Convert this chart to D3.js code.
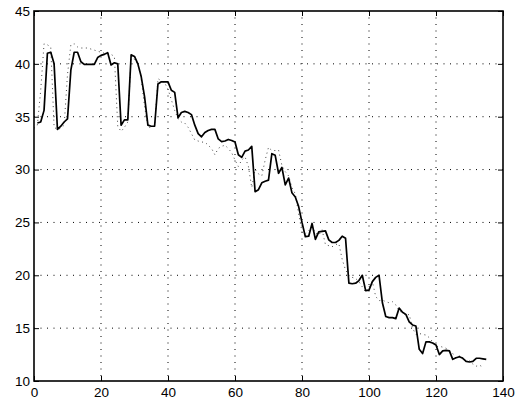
<!DOCTYPE html>
<html>
<head>
<meta charset="utf-8">
<script src="https://cdn.jsdelivr.net/npm/d3@7"></script>
<style>
  body { margin: 0; background: #fff; }
  #vis text { font-family: "Liberation Sans", Arial, sans-serif; font-size: 13.5px; fill: #000; }
</style>
</head>
<body>
<div id="vis"></div>
<script>
// solid series (model)
var solidX = [1,2,3,4,5,6,7,8,9,10,11,12,13,14,15,16,17,18,19,20,21,22,23,24,25,26,27,28,29,30,
  31,32,33,34,35,36,37,38,39,40,41,42,43,44,45,46,47,48,49,50,51,52,53,54,55,56,57,58,59,60,
  61,62,63,64,65,66,67,68,69,70,71,72,73,74,75,76,77,78,79,80,81,82,83,84,85,86,87,88,89,90,
  91,92,93,94,95,96,97,98,99,100,101,102,103,104,105,106,107,108,109,110,111,112,113,114,115,
  116,117,118,119,120,121,122,123,124,125,126,127,128,129,130,131,132,133,134,135];
var solidY = [34.4,34.5,35.6,41.0,41.1,40.0,33.8,34.1,34.5,34.8,39.4,41.1,41.1,40.2,39.95,39.95,39.95,39.95,40.6,40.8,
  40.9,41.05,39.9,40.1,40.0,34.2,34.7,34.7,40.85,40.7,40.0,38.8,36.9,34.2,34.1,34.1,38.1,38.3,38.3,38.3,
  37.5,37.3,34.9,35.4,35.5,35.4,35.2,34.2,33.4,33.1,33.5,33.7,33.8,33.8,32.9,32.65,32.7,32.85,32.75,32.6,
  31.4,31.15,31.75,31.85,32.2,27.9,28.1,28.75,28.9,29.0,31.5,31.35,29.65,30.2,28.55,29.2,27.8,27.4,26.5,25.0,
  23.65,23.7,24.9,23.4,24.1,24.15,24.2,23.35,23.1,23.1,23.3,23.7,23.5,19.25,19.2,19.25,19.5,20.0,18.55,18.6,
  19.4,19.8,20.0,17.4,16.1,16.0,16.0,15.9,16.9,16.5,16.3,15.6,15.3,15.2,13.0,12.6,13.7,13.7,13.6,13.4,
  12.5,12.85,12.9,12.85,12.05,12.2,12.3,12.15,11.85,11.8,11.85,12.15,12.15,12.1,12.05];

// dotted series (measured)
var dottedX = [0,1,2,3,4,5,6,7,8,9,10,11,12,13,14,15,16,17,18,19,20,21,22,23,24,25,26,27,28,29,
  30,31,32,33,34,35,36,37,38,39,40,41,42,43,44,45,46,47,48,49,50,51,52,53,54,55,56,57,58,59,
  60,61,62,63,64,65,66,67,68,69,70,71,72,73,74,75,76,77,78,79,80,81,82,83,84,85,86,87,88,89,
  90,91,92,93,94,95,96,97,98,99,100,101,102,103,104,105,106,107,108,109,110,111,112,113,114,
  115,116,117,118,119,120,121,122,123,124,125,126,127,128,129,130,131,132,133,134];
var dottedY = [33.9,34.2,37.5,41.9,41.8,41.6,34.0,33.8,33.9,34.2,39.0,41.8,41.9,41.6,41.5,41.5,41.5,41.4,41.3,41.2,
  41.1,41.0,41.0,40.9,40.7,34.1,33.6,34.0,34.5,40.8,40.4,40.0,38.6,36.0,34.0,34.0,34.1,38.6,38.4,38.2,
  37.6,36.6,35.6,34.8,34.5,34.4,34.0,33.4,32.8,32.7,32.6,32.6,32.3,32.0,31.4,32.0,32.2,32.3,32.0,31.6,
  30.9,30.3,30.9,31.2,30.3,28.3,30.0,29.6,29.4,30.9,32.1,31.8,31.8,31.85,30.4,29.8,29.4,28.3,27.7,25.8,
  24.1,23.9,24.2,24.6,24.0,23.8,24.3,22.9,22.8,22.7,22.9,23.0,21.5,20.5,20.0,19.8,19.7,19.4,18.9,18.4,
  18.9,19.4,18.0,17.6,17.66,17.5,17.4,17.5,17.2,16.6,16.5,16.2,16.3,15.0,14.4,14.5,14.4,14.35,14.1,13.7,
  13.25,13.3,13.2,13.1,12.9,12.6,12.15,12.4,12.2,11.8,11.9,11.6,11.4,11.5,11.3];

var xTicks = [0, 20, 40, 60, 80, 100, 120, 140];
var yTicks = [10, 15, 20, 25, 30, 35, 40, 45];

let svgWidth = 518, svgHeight = 400;
let margin = { top: 11, right: 15, bottom: 19, left: 34 };
let width = svgWidth - margin.left - margin.right;
let height = svgHeight - margin.top - margin.bottom;

let svg = d3.select("#vis").append("svg")
  .attr("width", svgWidth)
  .attr("height", svgHeight);

let g = svg.append("g")
  .attr("transform", "translate(" + margin.left + "," + margin.top + ")");

let x = d3.scaleLinear().domain([0, 140]).range([0, width]);
let y = d3.scaleLinear().domain([10, 45]).range([height, 0]);

// grid (dotted, interior ticks only)
g.selectAll(".vgrid")
  .data(xTicks.slice(1, -1))
  .enter().append("line")
  .attr("x1", d => x(d)).attr("x2", d => x(d))
  .attr("y1", 0).attr("y2", height)
  .attr("stroke", "#000").attr("stroke-width", 1)
  .attr("stroke-dasharray", "1,5.5");

g.selectAll(".hgrid")
  .data(yTicks.slice(1, -1))
  .enter().append("line")
  .attr("x1", 0).attr("x2", width)
  .attr("y1", d => y(d)).attr("y2", d => y(d))
  .attr("stroke", "#000").attr("stroke-width", 1)
  .attr("stroke-dasharray", "1,5.5");

// data lines
let line = d3.line()
  .x(d => x(d[0]))
  .y(d => y(d[1]));

g.append("path")
  .datum(d3.zip(dottedX, dottedY))
  .attr("d", line)
  .attr("fill", "none")
  .attr("stroke", "#444")
  .attr("stroke-width", 1)
  .attr("stroke-dasharray", "1,3.5");

g.append("path")
  .datum(d3.zip(solidX, solidY))
  .attr("d", line)
  .attr("fill", "none")
  .attr("stroke", "#000")
  .attr("stroke-width", 1.7)
  .attr("stroke-linejoin", "round");

// axes, matlab style: ticks inward on all four sides
let tickLen = 5;
let bottomAxis = d3.axisBottom(x).tickValues(xTicks).tickSizeInner(-tickLen).tickSizeOuter(0).tickPadding(6.5);
let leftAxis = d3.axisLeft(y).tickValues(yTicks).tickSizeInner(-tickLen).tickSizeOuter(0).tickPadding(4);
let topAxis = d3.axisTop(x).tickValues(xTicks).tickSizeInner(-tickLen).tickSizeOuter(0).tickFormat("");
let rightAxis = d3.axisRight(y).tickValues(yTicks).tickSizeInner(-tickLen).tickSizeOuter(0).tickFormat("");

g.append("g").attr("transform", "translate(0," + height + ")").call(bottomAxis);
g.append("g").call(leftAxis);
g.append("g").call(topAxis);
g.append("g").attr("transform", "translate(" + width + ",0)").call(rightAxis);

g.selectAll(".domain").remove();
g.selectAll(".tick line").attr("stroke", "#000").attr("stroke-width", 1);
g.selectAll(".tick text").attr("font-size", null).attr("font-family", null);

// box
g.append("rect")
  .attr("x", 0).attr("y", 0)
  .attr("width", width).attr("height", height)
  .attr("fill", "none")
  .attr("stroke", "#000")
  .attr("stroke-width", 1.6);
</script>
</body>
</html>
